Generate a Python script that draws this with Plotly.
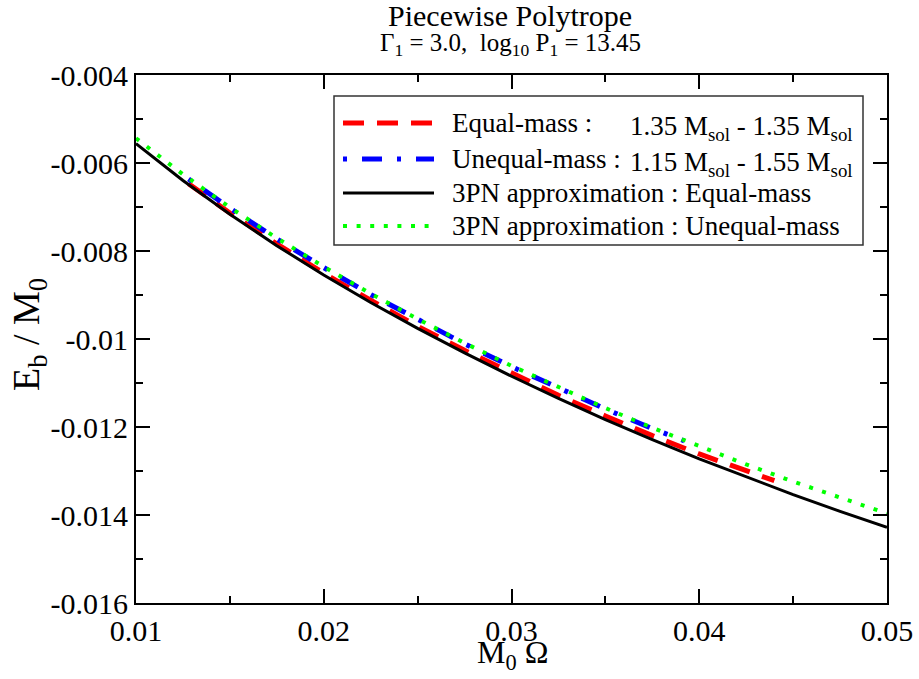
import plotly.graph_objects as go

# ---------------- data ----------------
omega_3pn = [0.01, 0.0125, 0.015, 0.0175, 0.02, 0.0225, 0.025, 0.0275, 0.03,
             0.0325, 0.035, 0.0375, 0.04, 0.0425, 0.045, 0.0475, 0.05]
eb_3pn_equal = [-0.005559, -0.006398, -0.007166, -0.007879, -0.008544, -0.009169,
                -0.009759, -0.010317, -0.010847, -0.011350, -0.011830, -0.012287,
                -0.012723, -0.013139, -0.013537, -0.013916, -0.014279]
eb_3pn_unequal = [-0.005437, -0.006258, -0.007009, -0.007706, -0.008357, -0.008968,
                  -0.009545, -0.010091, -0.010609, -0.011101, -0.011570, -0.012017,
                  -0.012443, -0.012850, -0.013239, -0.013611, -0.013966]

omega_equal = [0.0128, 0.015, 0.0175, 0.02, 0.0225, 0.025, 0.0275, 0.03, 0.0325,
               0.035, 0.0375, 0.04, 0.0425, 0.044]
eb_equal = [-0.006470, -0.007136, -0.007839, -0.008504, -0.009119, -0.009709,
            -0.010257, -0.010777, -0.011280, -0.011750, -0.012197, -0.012613,
            -0.013009, -0.013220]

omega_unequal = [0.0128, 0.015, 0.0175, 0.02, 0.0225, 0.025, 0.0275, 0.03, 0.0325,
                 0.035, 0.0375, 0.0392]
eb_unequal = [-0.006365, -0.007027, -0.007726, -0.008377, -0.008988, -0.009565,
              -0.010111, -0.010629, -0.011121, -0.011590, -0.012035, -0.012315]

x_tickvals = [0.01, 0.02, 0.03, 0.04, 0.05]
x_ticktext = ["0.01", "0.02", "0.03", "0.04", "0.05"]
y_tickvals = [-0.004, -0.006, -0.008, -0.010, -0.012, -0.014, -0.016]
y_ticktext = ["-0.004", "-0.006", "-0.008", "-0.01", "-0.012", "-0.014", "-0.016"]

legend_labels = [
    ("Equal-mass :", "1.35 M<sub>sol</sub> - 1.35 M<sub>sol</sub>"),
    ("Unequal-mass :", "1.15 M<sub>sol</sub> - 1.55 M<sub>sol</sub>"),
    ("3PN approximation : Equal-mass", None),
    ("3PN approximation : Unequal-mass", None),
]

# ---------------- styles ----------------
FONT = "Liberation Serif"
W, H = 919, 679
L, R, T, B = 136, 32, 75, 76
PW, PH = W - L - R, H - T - B


def px(x):
    return (x - L) / PW


def py(y):
    return (H - B - y) / PH


RED = dict(color="#ff0000", width=5, dash="21px,13px")
BLUE = dict(color="#0000ff", width=5, dash="4px,15px,20px,15px")
BLACK = dict(color="#000000", width=3)
GREEN = dict(color="#00ff00", width=4, dash="4px,9.6px")
styles = [RED, BLUE, BLACK, GREEN]

fig = go.Figure()
fig.add_trace(go.Scatter(x=omega_equal, y=eb_equal, mode="lines", line=RED, showlegend=False))
fig.add_trace(go.Scatter(x=omega_unequal, y=eb_unequal, mode="lines", line=BLUE, showlegend=False))
fig.add_trace(go.Scatter(x=omega_3pn, y=eb_3pn_equal, mode="lines", line=BLACK, showlegend=False))
fig.add_trace(go.Scatter(x=omega_3pn, y=eb_3pn_unequal, mode="lines", line=GREEN, showlegend=False))

axis_common = dict(
    showgrid=False, zeroline=False, showline=True, linecolor="black", linewidth=2,
    mirror="ticks", ticks="inside", ticklen=14, tickwidth=2, tickcolor="black",
    tickfont=dict(family=FONT, size=30, color="black"),
)
fig.update_xaxes(range=[0.01, 0.05], tickvals=x_tickvals, ticktext=x_ticktext,
                 minor=dict(ticks="inside", ticklen=7, tickwidth=2, tickcolor="black", dtick=0.005),
                 **axis_common)
fig.update_yaxes(range=[-0.016, -0.004], tickvals=y_tickvals, ticktext=y_ticktext,
                 minor=dict(ticks="inside", ticklen=7, tickwidth=2, tickcolor="black", dtick=0.001),
                 **axis_common)

shapes = []
annotations = []

# legend box
shapes.append(dict(type="rect", xref="paper", yref="paper",
                   x0=px(334), x1=px(863), y0=py(245), y1=py(96),
                   line=dict(color="#333333", width=1.5), fillcolor="white", layer="above"))
row_y = [123, 159, 193, 226]
for i, (st, (lab, lab2)) in enumerate(zip(styles, legend_labels)):
    yy = py(row_y[i])
    shapes.append(dict(type="line", xref="paper", yref="paper", x0=px(343), x1=px(434),
                       y0=yy, y1=yy, line=st, layer="above"))
    annotations.append(dict(text=lab, xref="paper", yref="paper", x=px(450), y=yy,
                            xanchor="left", yanchor="middle", showarrow=False,
                            font=dict(family=FONT, size=27, color="black")))
    if lab2:
        annotations.append(dict(text=lab2, xref="paper", yref="paper", x=px(628), y=py(row_y[i] + 5),
                                xanchor="left", yanchor="middle", showarrow=False,
                                font=dict(family=FONT, size=27, color="black")))

# titles
annotations.append(dict(text="Piecewise Polytrope", xref="paper", yref="paper",
                        x=px(510), y=py(15), xanchor="center", yanchor="middle", showarrow=False,
                        font=dict(family=FONT, size=30, color="black")))
annotations.append(dict(text="\u0393<sub>1</sub> = 3.0,\u00a0 log<sub>10</sub> P<sub>1</sub> = 13.45",
                        xref="paper", yref="paper",
                        x=px(510), y=py(44), xanchor="center", yanchor="middle", showarrow=False,
                        font=dict(family=FONT, size=25, color="black")))
annotations.append(dict(text="M<sub>0</sub> \u03a9", xref="paper", yref="paper",
                        x=px(512), y=py(677), xanchor="center", yanchor="bottom", showarrow=False,
                        font=dict(family=FONT, size=32, color="black")))
annotations.append(dict(text="E<sub>b</sub> / M<sub>0</sub>", xref="paper", yref="paper",
                        x=px(29), y=py(335), xanchor="center", yanchor="middle", showarrow=False,
                        textangle=-90, font=dict(family=FONT, size=38, color="black")))

fig.update_layout(
    width=W, height=H, margin=dict(l=L, r=R, t=T, b=B, autoexpand=False),
    paper_bgcolor="white", plot_bgcolor="white",
    font=dict(family=FONT, color="black"),
    shapes=shapes, annotations=annotations, showlegend=False,
)

fig.write_html("out.html")
